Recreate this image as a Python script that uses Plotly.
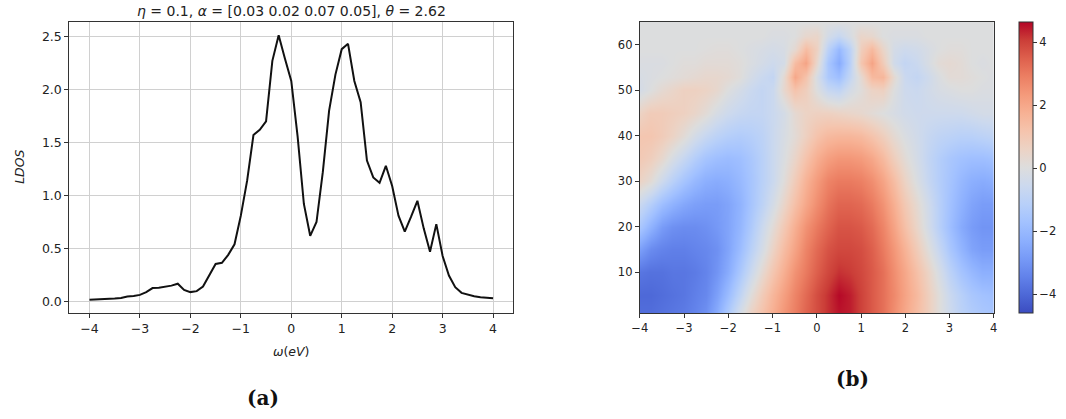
import plotly.graph_objects as go

W, H = 1066, 419

# ---------------- LDOS curve (panel a) ----------------
omega = [-4 + 0.125 * k for k in range(65)]
ldos = [0.016, 0.018, 0.021, 0.025, 0.029, 0.034, 0.048, 0.053, 0.063, 0.089,
        0.127, 0.130, 0.138, 0.150, 0.168, 0.110, 0.089, 0.098, 0.142, 0.247,
        0.355, 0.365, 0.440, 0.540, 0.810, 1.140, 1.570, 1.620, 1.700, 2.270,
        2.510, 2.290, 2.080, 1.560, 0.920, 0.620, 0.750, 1.220, 1.800, 2.140,
        2.380, 2.430, 2.080, 1.880, 1.330, 1.170, 1.120, 1.280, 1.090, 0.810,
        0.660, 0.800, 0.950, 0.690, 0.470, 0.730, 0.430, 0.245, 0.135, 0.082,
        0.063, 0.050, 0.041, 0.036, 0.031]

# ---------------- Heatmap (panel b) ----------------
hm_x = [-4 + 0.25 * k for k in range(33)]
hm_y = [1, 5, 10, 15, 20, 25, 30, 35, 40, 45, 50, 53, 56, 59, 62, 65]
hm_z = [
    [-3.9,-3.9,-3.8,-3.7,-3.6,-3.4,-3.1,-2.4,-1.4,-0.3, 0.6,1.2,1.8,2.4,2.9,3.4,3.8, 4.2,4.5,4.4,4.0,3.6,3.2,2.6,2.0, 1.4,0.8,0.1,-0.5,-1.0,-1.3,-1.5,-1.6],
    [-4.0,-4.0,-3.9,-3.8,-3.7,-3.5,-3.3,-2.7,-1.9,-0.9, 0.1,0.9,1.6,2.2,2.8,3.3,3.8, 4.2,4.6,4.4,4.0,3.6,3.2,2.7,2.1, 1.5,0.8,0.1,-0.6,-1.1,-1.5,-1.7,-1.8],
    [-3.7,-3.8,-3.8,-3.7,-3.7,-3.6,-3.4,-3.0,-2.4,-1.5, -0.6,0.3,1.1,1.8,2.5,3.0,3.5, 3.9,4.2,4.1,3.9,3.6,3.2,2.6,2.0, 1.3,0.6,-0.2,-1.0,-1.6,-2.0,-2.3,-2.3],
    [-2.7,-3.2,-3.4,-3.5,-3.5,-3.4,-3.3,-3.1,-2.6,-1.9, -1.1,-0.3,0.6,1.4,2.1,2.8,3.3, 3.7,3.9,3.9,3.8,3.5,3.0,2.4,1.7, 0.9,0.1,-0.7,-1.5,-2.1,-2.6,-2.8,-2.8],
    [-1.5,-2.2,-2.8,-3.1,-3.2,-3.2,-3.1,-2.9,-2.6,-2.1, -1.4,-0.6,0.2,1.0,1.8,2.5,3.0, 3.4,3.7,3.7,3.6,3.3,2.8,2.1,1.3, 0.5,-0.3,-1.1,-1.8,-2.4,-2.8,-3.0,-3.0],
    [-0.6,-1.2,-1.8,-2.2,-2.5,-2.7,-2.8,-2.8,-2.6,-2.2, -1.6,-1.0,-0.3,0.5,1.3,2.0,2.6, 3.1,3.4,3.4,3.3,3.0,2.5,1.8,1.0, 0.3,-0.4,-1.1,-1.7,-2.2,-2.6,-2.8,-2.8],
    [0.6,0.2,-0.5,-1.1,-1.6,-2.0,-2.3,-2.4,-2.3,-2.0, -1.6,-1.1,-0.6,0.1,0.9,1.7,2.3, 2.8,3.0,3.0,2.9,2.6,2.1,1.4,0.6, -0.1,-0.7,-1.2,-1.6,-2.0,-2.3,-2.4,-2.3],
    [1.0,0.8,0.4,-0.2,-0.7,-1.2,-1.6,-1.8,-1.9,-1.8, -1.5,-1.1,-0.6,-0.1,0.5,1.2,1.8, 2.2,2.4,2.4,2.3,2.0,1.5,0.8,0.2, -0.3,-0.8,-1.2,-1.5,-1.7,-1.8,-1.8,-1.7],
    [1.1,1.1,0.9,0.6,0.2,-0.3,-0.7,-1.0,-1.2,-1.3, -1.2,-1.0,-0.6,-0.2,0.2,0.7,1.2, 1.5,1.6,1.6,1.5,1.2,0.8,0.3,-0.1, -0.4,-0.7,-0.9,-1.0,-1.1,-1.1,-1.0,-0.9],
    [0.6,0.9,0.9,0.8,0.7,0.5,0.2,-0.2,-0.5,-0.7, -0.8,-0.8,-0.6,-0.3,0.3,0.6,0.7, 0.7,0.6,0.5,0.4,0.2,0.0,-0.2,-0.4, -0.5,-0.5,-0.5,-0.5,-0.5,-0.4,-0.3,-0.3],
    [-0.3,0.0,0.3,0.5,0.7,0.7,0.6,0.4,0.0,-0.3, -0.6,-0.8,-0.6,0.4,1.2,0.8,0.0, -0.7,-0.9,-0.3,0.1,0.6,0.7,0.0,-0.5, -0.6,-0.4,-0.2,-0.1,0.0,0.0,-0.1,-0.1],
    [-0.2,-0.1,0.0,0.1,0.2,0.3,0.4,0.4,0.3,0.1, -0.3,-0.6,-0.8,0.3,2.0,1.2,-0.2, -1.4,-1.8,-0.8,0.3,1.5,1.6,0.3,-0.6, -0.8,-0.5,-0.1,0.2,0.2,0.1,0.0,-0.1],
    [-0.1,-0.1,-0.1,0.0,0.1,0.1,0.2,0.2,0.2,0.1, -0.1,-0.3,-0.5,-0.3,1.4,2.1,0.4, -1.5,-2.4,-1.1,1.1,2.1,0.9,-0.4,-0.8, -0.6,-0.2,0.2,0.3,0.2,0.0,-0.1,0.0],
    [0.0,0.0,0.0,0.0,0.0,0.0,0.05,0.1,0.1,0.0, -0.1,-0.2,-0.3,-0.2,0.3,1.4,0.7, -1.0,-2.0,-1.0,0.8,1.5,0.5,-0.3,-0.5, -0.4,-0.2,0.0,0.1,0.1,0.0,0.0,0.0],
    [0.0,0.0,0.0,0.0,0.0,0.0,0.0,0.0,0.0,0.0, 0.0,0.0,-0.1,-0.1,0.0,0.4,0.5, -0.3,-0.7,-0.2,0.5,0.4,0.0,-0.1,-0.1, -0.1,0.0,0.0,0.0,0.0,0.0,0.0,0.0],
    [0.0]*33,
]
cb_ticks = [-4, -2, 0, 2, 4]

coolwarm = [
    [0.0, "rgb(59,76,192)"], [0.0625, "rgb(77,104,215)"], [0.125, "rgb(98,130,234)"],
    [0.1875, "rgb(119,154,247)"], [0.25, "rgb(141,176,254)"], [0.3125, "rgb(163,194,255)"],
    [0.375, "rgb(184,208,249)"], [0.4375, "rgb(204,217,238)"], [0.5, "rgb(221,221,221)"],
    [0.5625, "rgb(236,211,197)"], [0.625, "rgb(245,196,173)"], [0.6875, "rgb(247,177,148)"],
    [0.75, "rgb(244,154,123)"], [0.8125, "rgb(236,127,99)"], [0.875, "rgb(222,96,77)"],
    [0.9375, "rgb(203,62,56)"], [1.0, "rgb(180,4,38)"],
]

LFONT = 12.5   # panel (a) text size
RFONT = 11.5   # panel (b) text size

fig = go.Figure()
fig.add_trace(go.Scatter(x=omega, y=ldos, mode="lines",
                         line=dict(color="#111111", width=2),
                         xaxis="x", yaxis="y", showlegend=False))
fig.add_trace(go.Heatmap(x=hm_x, y=hm_y, z=hm_z, zsmooth="best",
                         colorscale=coolwarm, zmin=-4.6, zmax=4.65,
                         xaxis="x2", yaxis="y2",
                         colorbar=dict(x=1023 / W, xanchor="left", xpad=0, ypad=0,
                                       y=1 - (22 + 313) / 2 / H, yanchor="middle",
                                       len=(313 - 22) / H, lenmode="fraction",
                                       thickness=14, thicknessmode="pixels",
                                       outlinewidth=1, outlinecolor="#333",
                                       ticks="outside", ticklen=4, tickcolor="#333",
                                       tickvals=cb_ticks,
                                       tickfont=dict(family="DejaVu Sans", size=RFONT, color="#222"))))

ydom = [1 - 313 / H, 1 - 22 / H]

def axstyle(size):
    return dict(showline=True, mirror=True, linecolor="#333", linewidth=1,
                ticks="outside", ticklen=4, tickcolor="#333", zeroline=False,
                tickfont=dict(family="DejaVu Sans", size=size, color="#222"))

fig.update_layout(
    width=W, height=H, margin=dict(l=0, r=0, t=0, b=0),
    paper_bgcolor="white", plot_bgcolor="white",
    xaxis=dict(domain=[62 / W, 511 / W], range=[-4.4, 4.4], tickmode="array",
               tickvals=[-4, -3, -2, -1, 0, 1, 2, 3, 4], showgrid=True,
               gridcolor="#d0d0d0", gridwidth=1, anchor="y", **axstyle(LFONT)),
    yaxis=dict(domain=ydom, range=[-0.108, 2.636], tickmode="array",
               tickvals=[0, 0.5, 1.0, 1.5, 2.0, 2.5], tickformat=".1f",
               showgrid=True, gridcolor="#d0d0d0", gridwidth=1, anchor="x", **axstyle(LFONT)),
    xaxis2=dict(domain=[639 / W, 997 / W], range=[-4, 4], tickmode="array",
                tickvals=[-4, -3, -2, -1, 0, 1, 2, 3, 4], showgrid=False,
                anchor="y2", **axstyle(RFONT)),
    yaxis2=dict(domain=ydom, range=[1, 65], tickmode="array",
                tickvals=[10, 20, 30, 40, 50, 60], showgrid=False,
                anchor="x2", **axstyle(RFONT)),
)

def px(x, y):
    return x / W, 1 - y / H

anns = []
tx, ty = px(286.5, 11)
anns.append(dict(x=tx, y=ty, xref="paper", yref="paper", showarrow=False,
                 xanchor="center", yanchor="middle",
                 text="<i>η</i> = 0.1, <i>α</i> = [0.03 0.02 0.07 0.05], <i>θ</i> = 2.62",
                 font=dict(family="DejaVu Sans", size=14, color="#222")))
tx, ty = px(287, 351)
anns.append(dict(x=tx, y=ty, xref="paper", yref="paper", showarrow=False,
                 xanchor="center", yanchor="middle", text="<i>ω</i>(<i>eV</i>)",
                 font=dict(family="DejaVu Sans", size=LFONT, color="#222")))
tx, ty = px(12, 167)
anns.append(dict(x=tx, y=ty, xref="paper", yref="paper", showarrow=False,
                 xanchor="center", yanchor="middle", text="<i>LDOS</i>", textangle=-90,
                 font=dict(family="DejaVu Sans", size=LFONT, color="#222")))
tx, ty = px(258, 398)
anns.append(dict(x=tx, y=ty, xref="paper", yref="paper", showarrow=False,
                 xanchor="center", yanchor="middle", text="<b>(a)</b>",
                 font=dict(family="DejaVu Serif", size=20, color="#111")))
tx, ty = px(854, 379)
anns.append(dict(x=tx, y=ty, xref="paper", yref="paper", showarrow=False,
                 xanchor="center", yanchor="middle", text="<b>(b)</b>",
                 font=dict(family="DejaVu Serif", size=20, color="#111")))
fig.update_layout(annotations=anns)

fig.write_html("out.html")
